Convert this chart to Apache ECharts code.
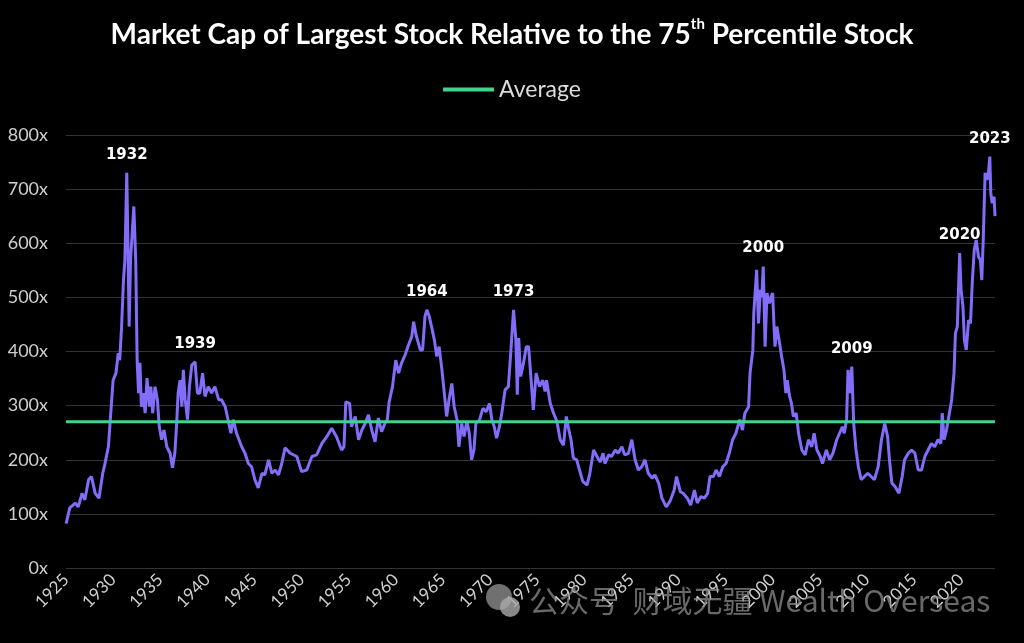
<!DOCTYPE html>
<html>
<head>
<meta charset="utf-8">
<script src="https://cdn.jsdelivr.net/npm/echarts@6/dist/echarts.min.js"></script>
<style>
html,body{margin:0;padding:0;background:#000;}
#chart{width:1024px;height:643px;}
</style>
</head>
<body>
<div id="chart"></div>
<script>
// ---- data ----
var years = [
1925.0,1925.07,1925.4,1926.0,1926.3,1926.7,1927.0,1927.4,1927.7,1928.1,1928.5,1928.9,1929.1,1929.5,1929.75,
1930.0,1930.3,1930.55,1930.7,1930.9,1931.1,1931.25,1931.45,1931.6,1931.7,1931.85,1932.2,1932.4,1932.55,1932.7,1932.85,
1933.0,1933.2,1933.4,1933.6,1933.85,1934.0,1934.2,1934.45,1934.7,1934.9,1935.15,1935.4,1935.7,1936.05,1936.3,1936.55,
1936.75,1936.9,1937.1,1937.3,1937.45,1937.65,1937.9,1938.1,1938.35,1938.7,1938.95,1939.2,1939.5,1939.75,1940.1,1940.45,
1940.8,1941.2,1941.5,1941.9,1942.2,1942.5,1942.75,1943.1,1943.65,1944.0,1944.35,1944.7,1945.05,1945.4,1945.8,1946.1,
1946.5,1946.85,1947.2,1947.55,1947.9,1948.25,1948.8,1949.5,
1950.0,1950.55,1951.1,1951.6,1952.15,1952.7,1953.2,1953.7,1954.25,1954.5,1954.7,1955.1,1955.3,1955.7,1956.05,1956.4,
1956.75,1957.1,1957.45,1957.8,1958.15,1958.5,1958.85,1959.1,1959.3,1959.65,1960.0,1960.3,1960.6,1961.0,1961.35,1961.7,
1961.9,1962.15,1962.6,1962.85,1963.1,1963.3,1963.55,1963.8,1964.1,1964.35,1964.6,1964.9,1965.15,1965.4,1965.65,1965.95,
1966.2,1966.5,1966.7,1967.0,1967.25,1967.55,1967.8,1968.05,1968.3,1968.5,1968.9,1969.25,1969.6,1969.95,1970.2,1970.45,
1970.7,1971.0,1971.25,1971.6,1971.95,1972.2,1972.5,1972.75,1972.9,1973.05,1973.25,1973.55,1973.85,1974.1,1974.35,1974.6,
1974.9,1975.25,1975.6,1975.85,1976.0,1976.4,1976.75,1977.1,1977.45,1977.8,1978.1,1978.3,1978.6,1978.85,1979.2,1979.5,
1979.85,1980.3,1980.6,1981.0,1981.35,1981.7,1982.0,1982.2,1982.6,1982.9,1983.3,1983.6,1984.0,1984.3,1984.7,1985.05,
1985.4,1985.75,1986.1,1986.45,1986.8,1987.2,1987.5,1987.9,1988.25,1988.7,1989.1,1989.55,1989.8,1990.2,1990.5,1990.95,
1991.3,1991.7,1992.0,1992.4,1992.75,1993.1,1993.35,1993.7,1994.0,1994.35,1994.7,1995.05,1995.4,1995.75,1996.1,1996.5,
1996.8,1997.05,1997.45,1997.6,1997.9,1998.0,1998.3,1998.5,1998.7,1998.85,1999.0,1999.2,1999.4,1999.65,1999.85,2000.0,
2000.15,2000.25,2000.45,2000.7,2000.95,2001.2,2001.4,2001.55,2001.8,2002.0,2002.2,2002.5,2002.75,2003.1,2003.45,2003.8,
2004.15,2004.4,2004.7,2005.05,2005.3,2005.7,2006.05,2006.4,2006.8,2007.1,2007.4,2007.6,2007.85,2008.0,2008.2,2008.4,
2008.6,2008.85,2009.1,2009.4,2009.75,2010.1,2010.45,2010.8,2011.2,2011.55,2011.9,2012.2,2012.4,2012.65,2013.0,2013.4,
2013.75,2014.0,2014.4,2014.75,2015.1,2015.45,2015.8,2016.15,2016.5,2016.85,2017.2,2017.55,2017.85,2018.0,2018.2,2018.45,
2018.7,2019.0,2019.25,2019.4,2019.6,2019.85,2020.0,2020.2,2020.35,2020.55,2020.8,2021.0,2021.2,2021.4,2021.6,2021.85,
2022.05,2022.2,2022.35,2022.55,2022.75,2022.9,2023.05,2023.15,2023.3,2023.5,2023.6
];
var ratio = [
82,86,111,120,113,138,126,163,169,138,129,175,190,224,286,
347,360,397,384,446,532,569,730,569,446,569,668,569,384,323,379,
298,323,286,351,298,335,286,335,311,261,237,255,224,212,185,212,
268,323,347,298,366,311,274,335,375,381,323,323,360,317,335,323,
335,311,311,298,274,249,274,249,224,212,193,187,163,148,175,172,
200,175,181,172,193,222,212,206,
178,181,206,209,230,243,258,243,218,224,307,304,261,280,237,255,
267,283,255,233,277,252,267,274,307,335,384,360,378,394,412,428,
455,431,403,403,465,477,465,446,421,391,409,366,323,280,311,341,
298,274,224,267,243,271,249,200,218,267,274,295,289,304,274,261,
240,261,286,329,335,397,477,421,320,425,354,378,409,409,351,292,
360,335,347,326,347,304,286,271,237,227,280,261,237,203,200,181,
160,153,175,218,206,196,212,193,209,206,218,212,224,209,212,237,
200,181,187,200,175,166,172,157,129,113,123,144,169,141,138,129,
116,144,120,132,129,138,169,169,181,169,187,193,212,237,249,274,
255,286,298,360,403,471,551,452,514,501,557,409,508,489,501,508,
446,409,446,420,391,366,323,347,317,304,280,286,249,218,209,237,
224,249,218,206,193,218,200,212,237,249,261,249,274,366,323,372,
267,218,187,163,169,175,169,163,187,237,267,243,200,157,150,138,
169,200,212,218,212,181,181,206,218,230,224,237,230,286,237,255,
280,311,360,434,446,582,514,483,421,403,458,452,532,588,606,575,
569,532,606,730,717,730,760,693,674,686,650
];
var averageValue = 270;
var peakLabels = ['1932','1939','1964','1973','2000','2009','2020','2023'];
var peakYears  = [1931.45,1938.7,1963.3,1972.5,1999.0,2008.4,2019.85,2023.05];
var yTicks = [0,100,200,300,400,500,600,700,800];
var xStart = 1925, xEnd = 2023.6, xStep = 5;

var seriesData = years.map(function(y,i){return [y, ratio[i]];});
var avgData = [[xStart, averageValue],[xEnd, averageValue]];

function valueAt(yr){
  var best = null;
  for (var i=0;i<years.length;i++){
    if (Math.abs(years[i]-yr) < 0.3){ if(best===null || ratio[i]>best) best = ratio[i]; }
  }
  return best;
}
var peakPoints = peakLabels.map(function(l,i){
  return {name:l, coord:[peakYears[i], valueAt(peakYears[i])], value:l};
});

var chart = echarts.init(document.getElementById('chart'));
chart.setOption({
  backgroundColor:'#000',
  animation:false,
  title:{
    text:'Market Cap of Largest Stock Relative to the 75{sup|th} Percentile Stock',
    left:'center', top:12,
    textStyle:{
      color:'#fff', fontFamily:'Lato', fontWeight:'bold', fontSize:28, lineHeight:36,
      rich:{
        sup:{color:'#fff', fontFamily:'Lato', fontWeight:'bold', fontSize:15, verticalAlign:'top', lineHeight:22}
      }
    }
  },
  legend:{
    data:['Average'], top:73, left:'center',
    icon:'rect', itemWidth:51, itemHeight:4, itemGap:9,
    textStyle:{color:'#dcdcdc', fontFamily:'Lato', fontSize:23}
  },
  grid:{left:66, right:29, top:135, bottom:75},
  xAxis:{
    type:'value', min:xStart, max:xEnd, interval:xStep,
    axisLine:{show:false}, axisTick:{show:false}, splitLine:{show:false},
    axisLabel:{
      rotate:45, color:'#cfcfcf', fontFamily:'Lato', fontSize:17, margin:9,
      showMaxLabel:false,
      formatter:function(v){ return (Math.abs(v % xStep) < 1e-6) ? String(v) : ''; }
    }
  },
  yAxis:{
    type:'value', min:yTicks[0], max:yTicks[yTicks.length-1], interval:100,
    axisLine:{show:false}, axisTick:{show:false},
    splitLine:{lineStyle:{color:'#333', width:1}},
    axisLabel:{color:'#cfcfcf', fontFamily:'Lato', fontSize:18, margin:18, formatter:'{value}x'}
  },
  series:[
    {
      name:'Ratio', type:'line', data:seriesData, showSymbol:false, symbol:'none',
      lineStyle:{color:'#816df7', width:3}, z:3,
      markPoint:{
        symbol:'circle', symbolSize:1, itemStyle:{color:'rgba(0,0,0,0)'},
        label:{show:true, position:'top', distance:10, color:'#fff', fontFamily:'DejaVu Sans', fontWeight:'bold', fontSize:15, formatter:'{b}'},
        data:peakPoints
      }
    },
    {
      name:'Average', type:'line', data:avgData, showSymbol:false, symbol:'none',
      lineStyle:{color:'#3fd48e', width:3}, itemStyle:{color:'#3fd48e'}, z:4
    }
  ],
  graphic:[
    {type:'circle', left:486, top:584, shape:{r:13}, style:{fill:'rgba(150,150,150,0.75)'}, z:10},
    {type:'circle', left:500, top:597, shape:{r:10}, style:{fill:'rgba(170,170,170,0.8)'}, z:11},
    {type:'text', left:529, top:586, z:10,
     style:{text:'公众号  财域无疆 Wealth Overseas', fill:'rgba(140,140,140,0.75)', font:'30px "Noto Sans CJK SC", sans-serif'}}
  ]
});
</script>
</body>
</html>
